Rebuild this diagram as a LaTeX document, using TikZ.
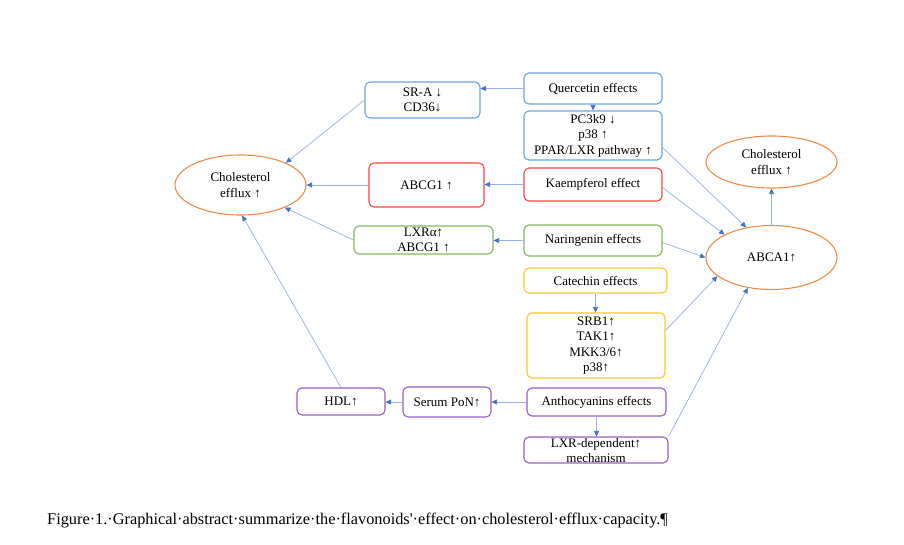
\documentclass[tikz,border=0pt]{standalone}
\usepackage{fontspec}
\setmainfont{Liberation Serif}
\usetikzlibrary{shapes.geometric,arrows.meta}

\definecolor{lineblue}{RGB}{150,178,226}
\definecolor{tipblue}{RGB}{68,114,196}
\definecolor{boxblue}{RGB}{110,165,220}
\definecolor{boxred}{RGB}{250,70,70}
\definecolor{boxgreen}{RGB}{130,185,95}
\definecolor{boxyellow}{RGB}{255,200,40}
\definecolor{boxpurple}{RGB}{150,95,200}
\definecolor{effluxorange}{RGB}{240,140,75}

\def\boxwidth{138pt}

\begin{document}
\begin{tikzpicture}[x=1pt,y=-1pt,->,>={Triangle[length=5.5pt,width=5pt,color=tipblue]}]
    \tikzstyle{every edge}=[draw=lineblue,line width=0.7pt]
    \tikzstyle{effect}=[rectangle,rounded corners=5pt,line width=1.1pt,align=center,inner sep=1pt,
        font=\fontsize{13}{15.5}\selectfont,minimum width=\boxwidth]
    \tikzstyle{blue box}=[effect, draw=boxblue]
    \tikzstyle{red box}=[effect, draw=boxred]
    \tikzstyle{green box}=[effect, draw=boxgreen]
    \tikzstyle{yellow box}=[effect, draw=boxyellow]
    \tikzstyle{purple box}=[effect, draw=boxpurple]
    \tikzstyle{efflux}=[ellipse,draw=effluxorange,line width=1.1pt,align=center,inner sep=0pt,
        font=\fontsize{13}{16}\selectfont,minimum width=131pt]

    \path[use as bounding box,fill=white] (0,0) rectangle (904,544);

    % Quercetin nodes
    \node[blue box, minimum height=31pt] (QE) at (593,88.5) {Quercetin effects};
    \node[blue box, minimum height=49pt] (QE-1) at (593,135.5) {PC3k9 ↓\\p38 ↑\\PPAR/LXR pathway ↑};
    \node[blue box, minimum width=115pt, minimum height=36pt] (SR) at (422.5,100) {SR-A ↓\\CD36↓};

    % Kaempferol nodes
    \node[red box, minimum height=33pt] (KA) at (593,184.5) {Kaempferol effect};
    \node[red box, minimum width=115pt, minimum height=44pt] (KA-1) at (426.5,185) {ABCG1 ↑};

    % Naringenin nodes
    \node[green box, minimum height=31pt] (NA) at (593,240.5) {Naringenin effects};
    \node[green box, minimum width=139pt, minimum height=28pt] (NA-1) at (423.5,240) {LXRα↑\\ABCG1 ↑};

    % Catechin nodes
    \node[yellow box, minimum width=143pt, minimum height=25pt] (CA) at (595.5,280.5) {Catechin effects};
    \node[yellow box, minimum height=65pt] (CA-1) at (596,345.5) {SRB1↑\\TAK1↑\\MKK3/6↑\\p38↑};

    % Anthocyanins nodes
    \node[purple box, minimum width=139pt, minimum height=28pt] (AN) at (596.5,402) {Anthocyanins effects};
    \node[purple box, minimum width=88pt, minimum height=30pt] (AN-1) at (447,402) {Serum PoN↑};
    \node[purple box, minimum width=88pt, minimum height=27pt] (AN-2) at (341,401.5) {HDL↑};
    \node[purple box, minimum width=144pt, inner sep=0pt, text height=25.5pt, text depth=0.5pt,
        font=\fontsize{13}{15}\selectfont] (AN-3) at (596,450) {LXR-dependent↑\\mechanism};

    % Efflux ellipses
    \node[efflux, minimum height=60pt] (CE-L) at (240.5,185) {Cholesterol\\efflux ↑};
    \node[efflux, minimum height=52pt] (CE-R) at (771.5,162) {Cholesterol\\efflux ↑};
    \node[efflux, minimum height=64pt] (ABCA) at (771.5,257.5) {ABCA1↑};

    % Connect quercetin
    \path (QE.west) edge (SR.east |- QE.west);
    \path (QE) edge (QE-1);
    \path (SR.west) edge (CE-L.26);
    \path ([yshift=-12pt]QE-1.east) edge (ABCA.130);

    % Connect kaempferol
    \path (KA.west) edge (KA-1.east |- KA.west);
    \path (KA-1) edge (CE-L);
    \path ([yshift=-3pt]KA.east) edge (ABCA.154);

    % Connect naringenin
    \path (NA.west) edge (NA-1.east |- NA.west);
    \path (NA-1.west) edge (CE-L.-27);
    \path ([yshift=-2pt]NA.east) edge (ABCA.west);

    % Connect catechin
    \path (CA.south) edge (CA.south |- CA-1.north);
    \path ([yshift=15pt]CA-1.east) edge (ABCA.199);

    % Connect anthocyanins
    \path (AN.west) edge (AN-1.east |- AN.west);
    \path (AN-1.west) edge (AN-2.east |- AN-1.west);
    \path (AN.south) edge (AN.south |- AN-3.north);
    \path (AN-3.north east) edge (ABCA.232);
    \path (AN-2.north) edge (CE-L.-87);

    % ABCA1 to efflux
    \path (ABCA) edge (CE-R);

    % Caption
    \node[anchor=west, inner sep=0pt, font=\fontsize{16.3}{18}\selectfont] (caption) at (47,521)
        {Figure·1.·Graphical·abstract·summarize·the·flavonoids\textquotesingle·effect·on·cholesterol·efflux·capacity.¶};
\end{tikzpicture}
\end{document}
